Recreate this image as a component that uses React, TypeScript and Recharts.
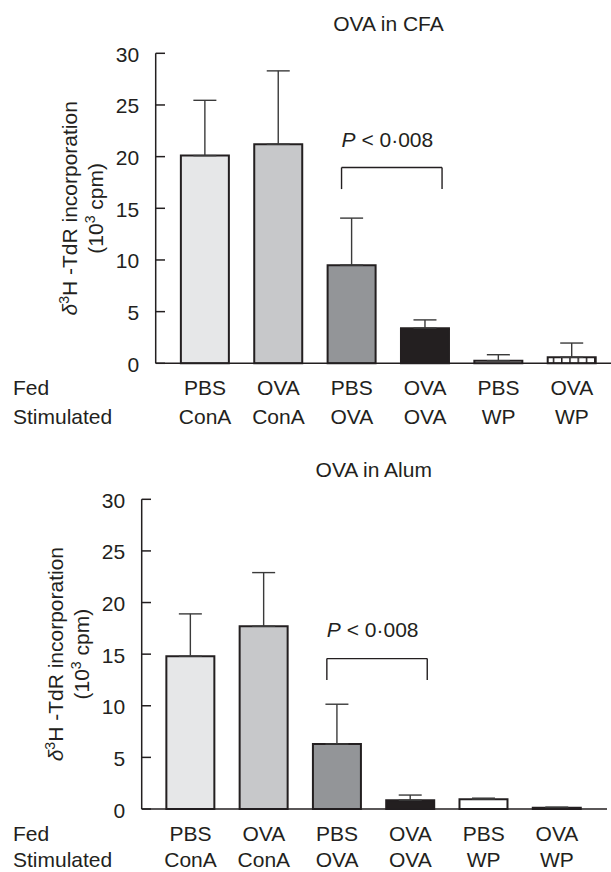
import React from 'react';
import {
  BarChart,
  Bar,
  XAxis,
  YAxis,
  ErrorBar,
  Cell,
  ReferenceLine,
  ReferenceDot,
  Label,
} from 'recharts';

const fed = ['PBS', 'OVA', 'PBS', 'OVA', 'PBS', 'OVA'];
const stimulated = ['ConA', 'ConA', 'OVA', 'OVA', 'WP', 'WP'];
const yTicks = [0, 5, 10, 15, 20, 25, 30];

// OVA in CFA
const cfaMean = [20.1, 21.2, 9.5, 3.4, 0.25, 0.58];
const cfaSem = [5.35, 7.1, 4.55, 0.8, 0.58, 1.38];

// OVA in Alum
const alumMean = [14.8, 17.7, 6.3, 0.85, 0.95, 0.13];
const alumSem = [4.1, 5.2, 3.85, 0.5, 0.1, 0.05];

const INK = '#231f20';
const FONT = '"Liberation Sans", Arial, sans-serif';
const FS = 21;

const YTick = (props: any) => {
  const { x, y, payload } = props;
  return (
    <g>
      <line x1={x} y1={y} x2={x + 9.3} y2={y} stroke={INK} strokeWidth={1.5} />
      <text x={x - 16.5} y={y + 8.5} textAnchor="end" fontSize={FS} fill={INK} fontFamily={FONT}>
        {payload.value}
      </text>
    </g>
  );
};

const makeXTick = (row2: number) => (props: any) => {
  const { x, y, payload } = props;
  const i = Number(payload.value);
  return (
    <g fontSize={FS} fill={INK} fontFamily={FONT} textAnchor="middle">
      <text x={x} y={y + 32}>{fed[i]}</text>
      <text x={x} y={y + row2}>{stimulated[i]}</text>
    </g>
  );
};

const makeRowLabels = (row2: number) => (props: any) => {
  const { viewBox } = props;
  return (
    <g fontSize={FS} fill={INK} fontFamily={FONT}>
      <text x={13} y={viewBox.y + 32}>Fed</text>
      <text x={13} y={viewBox.y + row2}>Stimulated</text>
    </g>
  );
};

const YLabel = (props: any) => {
  const { viewBox } = props;
  const ax = viewBox.x + viewBox.width;
  const cy = viewBox.y + viewBox.height / 2;
  const x1 = ax - 79;
  const x2 = ax - 53;
  return (
    <g fontSize={FS} fill={INK} fontFamily={FONT} textAnchor="middle">
      <text x={x1} y={cy} transform={`rotate(-90 ${x1} ${cy})`}>
        <tspan fontStyle="italic">δ</tspan>
        <tspan dy={-8} fontSize={14}>3</tspan>
        <tspan dy={8}>H -TdR incorporation</tspan>
      </text>
      <text x={x2} y={cy} transform={`rotate(-90 ${x2} ${cy})`}>
        (10<tspan dy={-8} fontSize={14}>3</tspan>
        <tspan dy={8}> cpm)</tspan>
      </text>
    </g>
  );
};

interface PanelProps {
  id: string;
  title: string;
  mean: number[];
  sem: number[];
  pY: number;
  bracketTop: number;
  bracketBottom: number;
  axisLeft: number;
  top: number;
  xHeight: number;
  right: number;
  pad: [number, number];
  row2: number;
}

function Panel(p: PanelProps) {
  const data = fed.map((f, i) => ({
    key: i,
    pos: i + 0.5,
    fed: f,
    stim: stimulated[i],
    mean: p.mean[i],
    err: [0, p.sem[i]],
  }));
  const fills = ['#e6e7e8', '#c7c8ca', '#939598', INK, '#ffffff', `url(#${p.id})`];
  const bl = 2.36;
  const br = 3.73;

  return (
    <BarChart
      width={611}
      height={436}
      data={data}
      margin={{ top: p.top, right: p.right, bottom: 0, left: 0 }}
      barCategoryGap="17%"
    >
      <defs>
        <pattern id={p.id} patternUnits="userSpaceOnUse" width={8.25} height={10}>
          <rect width={8.25} height={10} fill="#ffffff" />
          <line x1={0.75} y1={0} x2={0.75} y2={10} stroke={INK} strokeWidth={1.5} />
        </pattern>
      </defs>
      <XAxis
        dataKey="key"
        height={p.xHeight}
        padding={{ left: p.pad[0], right: p.pad[1] }}
        axisLine={{ stroke: INK, strokeWidth: 1.5 }}
        tickLine={false}
        tickSize={0}
        tickMargin={0}
        interval={0}
        tick={makeXTick(p.row2)}
      >
        <Label content={makeRowLabels(p.row2)} />
      </XAxis>
      <XAxis
        xAxisId="n"
        dataKey="pos"
        type="number"
        domain={[0, 6]}
        allowDataOverflow
        padding={{ left: p.pad[0], right: p.pad[1] }}
        hide
      />
      <YAxis
        domain={[0, 30]}
        ticks={yTicks}
        width={p.axisLeft}
        interval={0}
        axisLine={{ stroke: INK, strokeWidth: 1.5 }}
        tickLine={false}
        tickSize={0}
        tickMargin={0}
        tick={YTick}
      >
        <Label content={YLabel} />
      </YAxis>
      <Bar dataKey="mean" stroke={INK} strokeWidth={2} isAnimationActive={false}>
        {data.map((d, i) => (
          <Cell key={d.key} fill={fills[i]} />
        ))}
        <ErrorBar dataKey="err" width={11.5} stroke="#3a3a3a" strokeWidth={1.4} direction="y" />
      </Bar>
      <ReferenceLine
        xAxisId="n"
        segment={[{ x: bl, y: p.bracketTop }, { x: br, y: p.bracketTop }]}
        stroke={INK}
        strokeWidth={1.4}
        ifOverflow="visible"
      />
      <ReferenceLine
        xAxisId="n"
        segment={[{ x: bl, y: p.bracketTop }, { x: bl, y: p.bracketBottom }]}
        stroke={INK}
        strokeWidth={1.4}
        ifOverflow="visible"
      />
      <ReferenceLine
        xAxisId="n"
        segment={[{ x: br, y: p.bracketTop }, { x: br, y: p.bracketBottom }]}
        stroke={INK}
        strokeWidth={1.4}
        ifOverflow="visible"
      />
      <ReferenceDot
        xAxisId="n"
        x={bl}
        y={p.pY}
        r={0}
        fill="none"
        stroke="none"
        ifOverflow="visible"
        label={(lp: any) => (
          <text x={lp.viewBox.x} y={lp.viewBox.y} fontSize={FS} fill={INK} fontFamily={FONT}>
            <tspan fontStyle="italic">P</tspan>
            {' < 0·008'}
          </text>
        )}
      />
      <ReferenceDot
        xAxisId="n"
        x={3}
        y={30}
        r={0}
        fill="none"
        stroke="none"
        ifOverflow="visible"
        label={(lp: any) => (
          <text
            x={lp.viewBox.x}
            y={lp.viewBox.y - 22.5}
            fontSize={FS}
            fill={INK}
            fontFamily={FONT}
            textAnchor="middle"
          >
            {p.title}
          </text>
        )}
      />
    </BarChart>
  );
}

export default function App() {
  return (
    <div
      style={{
        position: 'absolute',
        left: 0,
        top: 0,
        width: 611,
        height: 872,
        background: '#ffffff',
        fontFamily: FONT,
      }}
    >
      <Panel
        id="brickCfa"
        title="OVA in CFA"
        mean={cfaMean}
        sem={cfaSem}
        pY={20.95}
        bracketTop={18.95}
        bracketBottom={16.86}
        axisLeft={155.7}
        top={53.3}
        xHeight={72.7}
        right={0}
        pad={[12.7, 2.4]}
        row2={60.5}
      />
      <Panel
        id="brickAlum"
        title="OVA in Alum"
        mean={alumMean}
        sem={alumSem}
        pY={16.7}
        bracketTop={14.57}
        bracketBottom={12.5}
        axisLeft={141.7}
        top={63.3}
        xHeight={63}
        right={4}
        pad={[12.2, 13.4]}
        row2={58}
      />
    </div>
  );
}
